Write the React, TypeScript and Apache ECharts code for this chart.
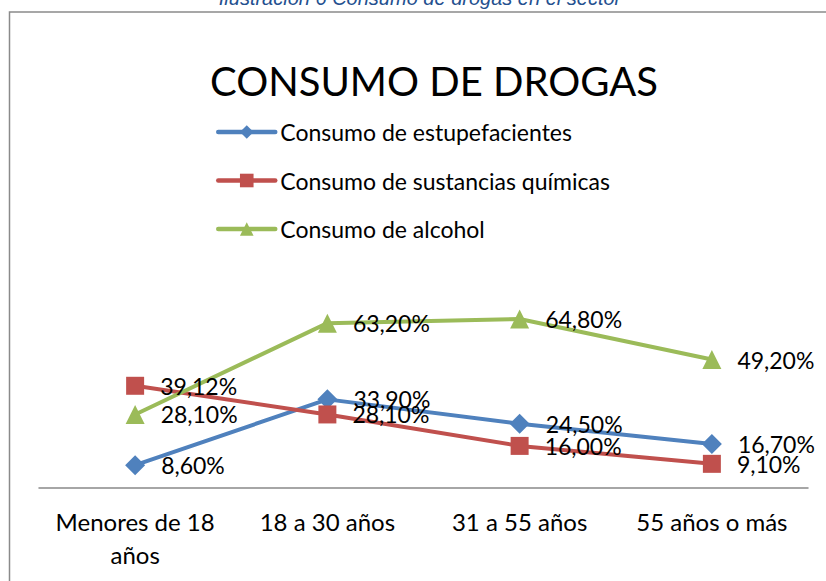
import React, { useEffect, useRef } from "react";
import * as echarts from "echarts";

const categories = ["Menores de 18\naños", "18 a 30 años", "31 a 55 años", "55 años o más"];
const estupefacientes = [8.6, 33.9, 24.5, 16.7];
const quimicas = [39.12, 28.1, 16.0, 9.1];
const alcohol = [28.1, 63.2, 64.8, 49.2];
const seriesNames = [
  "Consumo de estupefacientes",
  "Consumo de sustancias químicas",
  "Consumo de alcohol",
];
const caption = "Ilustración 6 Consumo de drogas en el sector";
const title = "CONSUMO DE DROGAS";

const FONT = "Lato";

export default function App() {
  const ref = useRef<HTMLDivElement>(null);
  useEffect(() => {
    if (!ref.current) return;
    const chart = echarts.init(ref.current, null, { renderer: "svg" });
    const fmt = (p: any) => p.value.toFixed(2).replace(".", ",") + "%";
    const mk = (name: string, data: number[], color: string, symbol: string, size: number) => ({
      name,
      type: "line",
      data,
      symbol,
      symbolSize: size,
      color,
      lineStyle: { width: 4, color },
      itemStyle: { color },
      label: {
        show: true,
        position: "right",
        distance: 16,
        formatter: fmt,
        fontFamily: FONT,
        fontSize: 23,
        color: "#000",
      },
    });
    chart.setOption({
      animation: false,
      backgroundColor: "#fff",
      graphic: [
        {
          type: "rect",
          shape: { x: 9.5, y: 12, width: 900, height: 700 },
          style: { fill: "none", stroke: "#8a8a8a", lineWidth: 1.5 },
          z: 0,
        },
        {
          type: "text",
          x: 420,
          y: 8,
          style: {
            text: caption,
            fontFamily: "Liberation Sans",
            fontStyle: "italic",
            fontSize: 20,
            fill: "#24508f",
            align: "center",
            verticalAlign: "bottom",
          },
        },
        {
          type: "text",
          x: 434,
          y: 81,
          style: {
            text: title,
            fontFamily: FONT,
            fontSize: 40,
            fill: "#000",
            align: "center",
            verticalAlign: "middle",
          },
        },
      ],
      legend: {
        orient: "vertical",
        left: 216,
        top: 120,
        padding: 0,
        itemWidth: 57,
        itemHeight: 17,
        itemGap: 24.5,
        lineStyle: { width: 4.5, cap: "round" },
        textStyle: { fontFamily: FONT, fontSize: 23, color: "#000", lineHeight: 24 },
        data: seriesNames,
      },
      grid: {
        left: 39,
        right: 18,
        top: 305.5,
        bottom: 93.5,
        outerBoundsMode: "none",
      },
      xAxis: {
        type: "category",
        data: categories,
        boundaryGap: true,
        axisTick: { show: false },
        axisLine: { lineStyle: { color: "#898989", width: 1.5 } },
        axisLabel: {
          fontFamily: FONT,
          fontSize: 24,
          lineHeight: 33,
          color: "#000",
          margin: 17,
          interval: 0,
        },
      },
      yAxis: {
        type: "value",
        min: 0,
        max: 70,
        show: false,
        splitLine: { show: false },
      },
      series: [
        mk(seriesNames[0], estupefacientes, "#4F81BD", "diamond", 20),
        mk(seriesNames[1], quimicas, "#C0504D", "rect", 18),
        mk(seriesNames[2], alcohol, "#9BBB59", "triangle", 19),
      ],
    });
    return () => chart.dispose();
  }, []);
  return (
    <div
      ref={ref}
      style={{ position: "absolute", left: 0, top: 0, width: 826, height: 581 }}
    />
  );
}
